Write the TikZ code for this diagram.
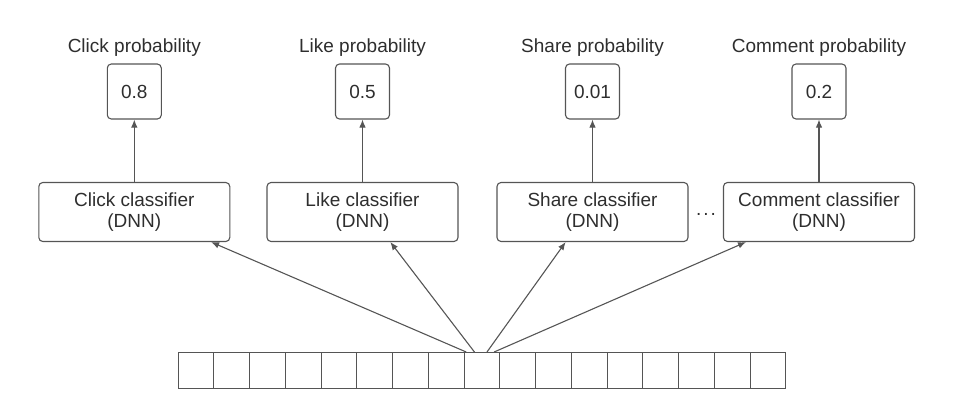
\documentclass[tikz,border=0pt]{standalone}
\usepackage{fontspec}
\setmainfont{Liberation Sans}
\usetikzlibrary{arrows.meta,calc}
\definecolor{ink}{HTML}{2E2E2E}
\definecolor{edge}{HTML}{555555}
\tikzset{
  base/.style={font=\fontsize{19}{21}\selectfont, text=ink},
  classbox/.style={base, draw=edge, line width=1.1pt, rounded corners=4pt,
    minimum width=191pt, minimum height=59pt, inner sep=0pt, align=center},
  probbox/.style={base, draw=edge, line width=1.1pt, rounded corners=4pt,
    minimum width=54pt, minimum height=55pt, inner sep=0pt},
  title/.style={base},
  cell/.style={draw=edge, line width=1pt, minimum width=35.76pt,
    minimum height=36pt, inner sep=0pt, outer sep=0pt},
  link/.style={draw=edge, line width=1.1pt, -{Latex[length=8pt,width=6.5pt]}}
}
\begin{document}
\begin{tikzpicture}[x=1pt,y=-1pt]
\useasboundingbox (0,0) rectangle (970,405);

% classifiers
\node[classbox] (click)   at (134.3,212) {Click classifier\\(DNN)};
\node[classbox] (like)    at (362.5,212) {Like classifier\\(DNN)};
\node[classbox] (share)   at (592.5,212) {Share classifier\\(DNN)};
\node[classbox] (comment) at (819,212)   {Comment classifier\\(DNN)};
\node[base, anchor=base] (dots) at (706,215) {.\kern2pt.\kern2pt.};

% probability outputs
\node[probbox] (pclick)   at (134.3,91.5) {0.8};
\node[probbox] (plike)    at (362.5,91.5) {0.5};
\node[probbox] (pshare)   at (592.5,91.5) {0.01};
\node[probbox] (pcomment) at (819,91.5)   {0.2};

% titles
\node[title] (tclick)   at (134.3,48) {Click probability};
\node[title] (tlike)    at (362.5,48) {Like probability};
\node[title] (tshare)   at (592.5,48) {Share probability};
\node[title] (tcomment) at (819,48)   {Comment probability};

% feature vector
\foreach \i in {0,...,16}
  \node[cell] (c\i) at ({178+35.76*(\i+0.5)},370) {};

% classifier -> probability
\foreach \a/\b in {click/pclick, like/plike, share/pshare, comment/pcomment}
  \draw[link] (\a.north) -- (\b.south);

% feature vector -> classifiers
\coordinate (s1) at ($(c8.north west)!0.06!(c8.north east)$);
\coordinate (s2) at ($(c8.north west)!0.29!(c8.north east)$);
\coordinate (s3) at ($(c8.north west)!0.64!(c8.north east)$);
\coordinate (s4) at ($(c8.north west)!0.84!(c8.north east)$);
\coordinate (e1) at ($(click.south west)!0.90!(click.south east)$);
\coordinate (e2) at ($(like.south west)!0.645!(like.south east)$);
\coordinate (e3) at ($(share.south west)!0.36!(share.south east)$);
\coordinate (e4) at ($(comment.south west)!0.12!(comment.south east)$);
\draw[link] (s1) -- (e1);
\draw[link] (s2) -- (e2);
\draw[link] (s3) -- (e3);
\draw[link] (s4) -- (e4);
\end{tikzpicture}
\end{document}
